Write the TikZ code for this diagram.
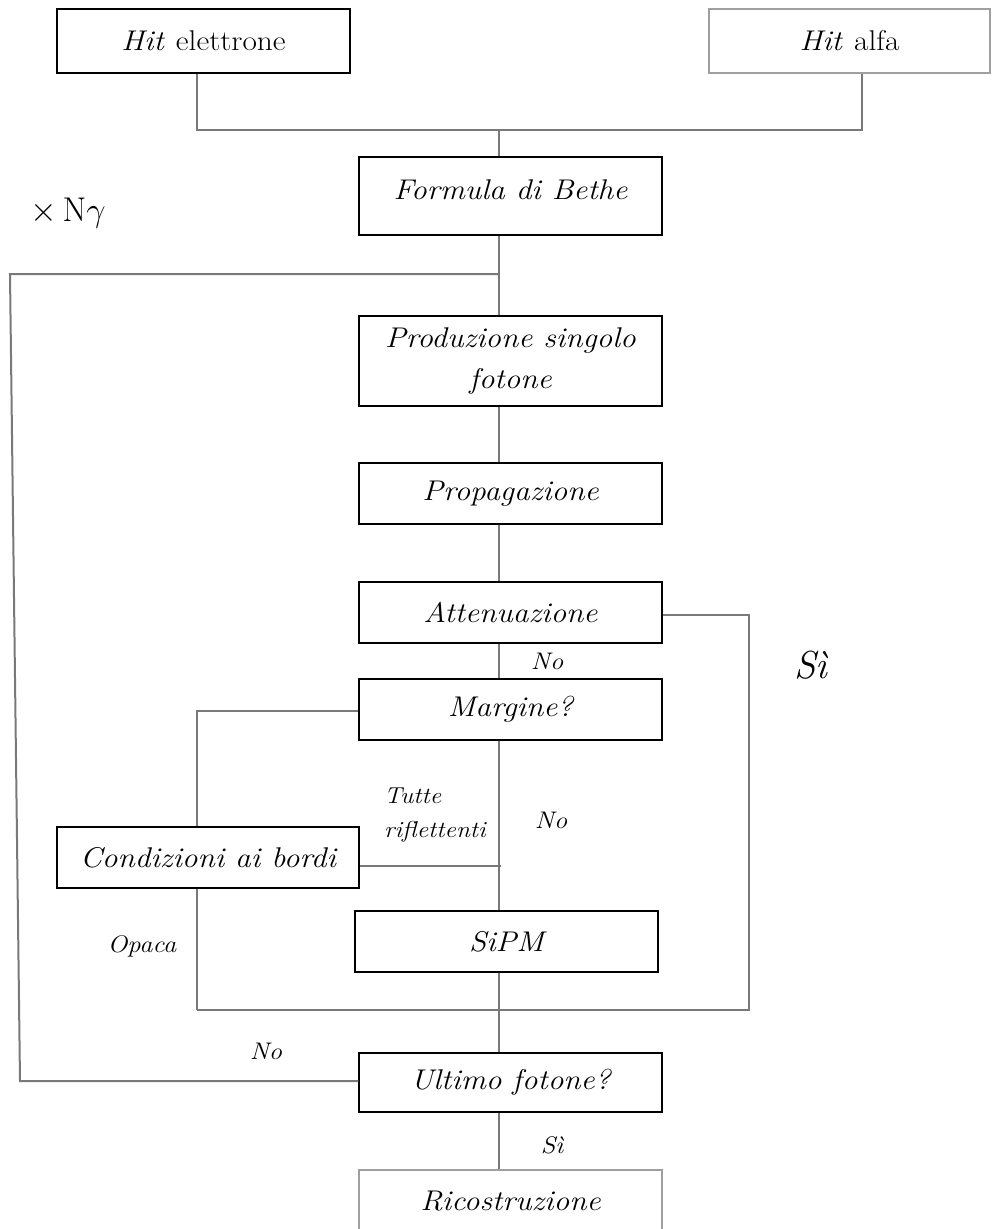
\documentclass[tikz,border=0pt]{standalone}
\usepackage{graphicx}
\newcommand{\widetxt}[1]{\scalebox{1.1}[1]{#1}}
\begin{document}
\begin{tikzpicture}[x=1pt,y=-1pt,
  box/.style={draw=black,line width=1.3pt,inner sep=0pt,minimum width=303pt,minimum height=61pt,
    font=\fontsize{28.5}{33}\selectfont\itshape,align=center},
  conn/.style={draw=gray!95!black,line width=2pt},
  lab/.style={font=\fontsize{24}{27}\selectfont\itshape,inner sep=0pt},
  biglab/.style={font=\fontsize{30}{33}\selectfont\itshape,inner sep=0pt}]
\useasboundingbox (0,0) rectangle (991,1229);
% boxes
\node[box,minimum width=293pt,minimum height=64pt] (el) at (203.5,41) {\widetxt{Hit \textup{elettrone}}};
\node[box,draw=gray!75,minimum width=281pt,minimum height=64pt] (al) at (849.5,41) {\widetxt{Hit \textup{alfa}}};
\node[box,minimum height=78pt] (be) at (510.5,196) {\raisebox{13pt}{\widetxt{Formula di Bethe}}};
\node[box,minimum height=90pt,font=\fontsize{28.5}{41}\selectfont\itshape] (pr) at (510.5,361) {\widetxt{Produzione singolo}\\\widetxt{fotone}};
\node[box] (pg) at (510.5,493.5) {\widetxt{Propagazione}};
\node[box] (at) at (510.5,612.5) {\widetxt{Attenuazione}};
\node[box] (ma) at (510.5,709.5) {\widetxt{Margine?}};
\node[box,minimum width=302pt] (co) at (208,857.5) {\widetxt{Condizioni ai bordi}};
\node[box] (si) at (506.5,941.5) {\widetxt{SiPM}};
\node[box,minimum height=59pt] (ul) at (510.5,1082.5) {\widetxt{Ultimo fotone?}};
\node[box,draw=gray!75,minimum height=74pt] (ri) at (510.5,1207) {\raisebox{12pt}{\widetxt{Ricostruzione}}};
% helper coordinates
\coordinate (sp) at (499,0);
\coordinate (xl) at (197,0);
\coordinate (xr) at (862,0);
\coordinate (jt) at (499,130);
\coordinate (jl) at (197,130);
\coordinate (jr) at (862,130);
\coordinate (j2) at (499,274);
\coordinate (lt) at (10,274);
\coordinate (lb) at (20,1081);
\coordinate (rt) at (749,615);
\coordinate (rb) at (749,1010);
\coordinate (lbb) at (197,1010);
\coordinate (mc) at (197,711);
\coordinate (ce) at (501,866);
% connectors
\draw[conn] (el.south -| xl) -- (jl) -- (jr) -- (al.south -| xr);
\draw[conn] (jt) -- (be.north -| sp);
\draw[conn] (be.south -| sp) -- (pr.north -| sp);
\draw[conn] (j2) -- (lt) -- (lb) -- (ul.west |- lb);
\draw[conn] (pr.south -| sp) -- (pg.north -| sp);
\draw[conn] (pg.south -| sp) -- (at.north -| sp);
\draw[conn] (at.south -| sp) -- (ma.north -| sp);
\draw[conn] (at.east |- rt) -- (rt) -- (rb) -- (lbb);
\draw[conn] (ma.west |- mc) -- (mc) -- (co.north -| xl);
\draw[conn] (co.east |- ce) -- (ce);
\draw[conn] (ma.south -| sp) -- (si.north -| sp);
\draw[conn] (co.south -| xl) -- (lbb);
\draw[conn] (si.south -| sp) -- (ul.north -| sp);
\draw[conn] (ul.south -| sp) -- (ri.north -| sp);
% labels
\node[font=\fontsize{24}{28}\selectfont,inner sep=0pt] (ng) at (68,213) {\scalebox{1.38}{$\times\,\mathrm{N}\gamma$}};
\node[lab] (l1) at (547,661) {\widetxt{No}};
\node[biglab] (l2) at (811,665) {\scalebox{1.3}{Sì}};
\node[lab,align=left,anchor=west,font=\fontsize{23}{34}\selectfont\itshape] (l3) at (384,815) {\widetxt{Tutte}\\\widetxt{riflettenti}};
\node[lab] (l4) at (551,820) {\widetxt{No}};
\node[lab] (l5) at (142,946) {\widetxt{Opaca}};
\node[lab] (l6) at (266,1051) {\widetxt{No}};
\node[lab] (l7) at (552,1145) {\widetxt{Sì}};
\end{tikzpicture}
\end{document}
